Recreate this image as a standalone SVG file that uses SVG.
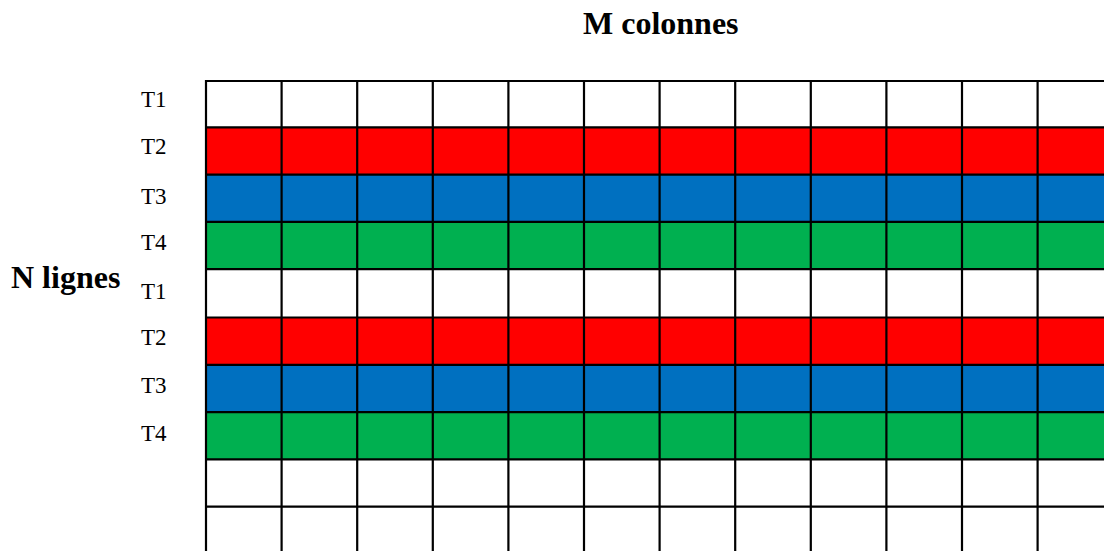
<svg xmlns="http://www.w3.org/2000/svg" width="1104" height="551" viewBox="0 0 1104 551">
<style>
.lbl{font-family:"Liberation Serif","Times New Roman",serif;font-size:23px;fill:#000}
.ttl{font-family:"Liberation Serif","Times New Roman",serif;font-size:32px;font-weight:bold;fill:#000}
.r{fill:#FF0000}.b{fill:#0070C0}.g{fill:#00B050}
.ln{stroke:#000;stroke-width:2.2;fill:none}
</style>
<rect width="1104" height="551" fill="#fff"/>
<g id="titles">
<text class="ttl" x="583" y="34">M colonnes</text>
<text class="ttl" x="11" y="288">N lignes</text>
</g>
<g id="row-labels">
<text class="lbl" x="141" y="107">T1</text>
<text class="lbl" x="141" y="154">T2</text>
<text class="lbl" x="141" y="204">T3</text>
<text class="lbl" x="141" y="250">T4</text>
<text class="lbl" x="141" y="299">T1</text>
<text class="lbl" x="141" y="345">T2</text>
<text class="lbl" x="141" y="393">T3</text>
<text class="lbl" x="141" y="441">T4</text>
</g>
<g id="bands">
<rect class="r" x="206" y="127.3" width="898" height="47.3"/>
<rect class="b" x="206" y="174.6" width="898" height="47.3"/>
<rect class="g" x="206" y="221.9" width="898" height="47.3"/>
<rect class="r" x="206" y="317.5" width="898" height="47.3"/>
<rect class="b" x="206" y="364.8" width="898" height="47.3"/>
<rect class="g" x="206" y="412.1" width="898" height="47.3"/>
</g>
<g id="grid" class="ln">
<path d="M206,81H1104M206,127.3H1104M206,174.6H1104M206,221.9H1104M206,269.2H1104M206,317.5H1104M206,364.8H1104M206,412.1H1104M206,459.4H1104M206,506.7H1104"/>
<path d="M206,80V551M281.6,80V551M357.2,80V551M432.8,80V551M508.4,80V551M584,80V551M659.6,80V551M735.2,80V551M810.8,80V551M886.4,80V551M962,80V551M1037.6,80V551"/>
</g>
</svg>
